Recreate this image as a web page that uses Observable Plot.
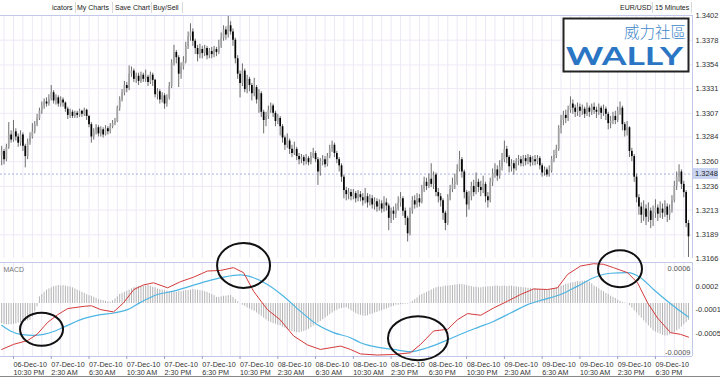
<!DOCTYPE html>
<html><head><meta charset="utf-8">
<script src="https://cdn.jsdelivr.net/npm/d3@7"></script>
<script src="https://cdn.jsdelivr.net/npm/@observablehq/plot@0.6"></script>
<style>
body{margin:0;background:#fff;}
#root{position:relative;width:720px;height:377px;overflow:hidden;background:#fff;font-family:"Liberation Sans",Arial,sans-serif;}
.tb{position:absolute;top:3px;font-size:7px;color:#222;line-height:9px;white-space:nowrap;}
.sep{position:absolute;top:2px;width:1px;height:11px;background:#d8d8d8;}
svg.plot{position:absolute;left:0;}
</style>
</head><body><div id="root"></div>
<script>
// ---------- DATA ----------
const BASE = 1.3; // prices below are pips above 1.3000
const openPips = [
266,270,262,274,286,281,289,284,278,286, 275,265,279,284,289,296,302,309,314,318,
316,321,327,319,322,316,320,317,311,305, 308,304,307,305,309,306,310,304,296,284,
289,293,287,291,286,292,289,294,297,299, 312,320,327,334,331,345,348,340,343,338,
344,340,342,337,344,339,325,328,320,324, 316,322,333,356,366,361,345,352,357,372,
381,386,377,370,364,369,365,370,363,367, 364,369,366,372,380,388,383,392,386,378,
360,345,336,348,330,340,334,326,332,320, 326,308,300,304,310,314,307,299,302,294,
283,276,280,272,268,272,265,262,264,260, 263,259,265,268,262,250,260,262,257,265,
272,276,268,262,256,245,232,228,230,226, 229,224,228,225,222,226,220,224,218,221,
216,219,214,220,217,205,212,209,214,220, 224,212,205,190,212,222,218,224,220,233,
240,236,243,238,247,230,226,222,210,200, 225,233,238,240,252,262,250,230,218,226,
236,230,240,235,232,238,226,222,240,248, 252,246,255,262,272,264,255,258,253,260,
262,258,263,260,264,259,262,260,263,256, 249,252,247,251,262,266,272,292,300,305,
302,310,316,312,308,313,309,311,306,312, 308,313,310,308,312,307,311,306,297,299,
304,300,309,312,296,290,293,270,265,245, 225,216,208,214,206,212,203,210,215,209,
214,210,216,208,213,222,236,245,250,238, 230,200];
const highPips = [
275,272,277,298,290,300,292,287,290,288, 277,282,288,297,299,306,312,318,321,322,
325,334,329,325,324,323,322,318,313,311, 310,309,309,311,310,312,311,305,298,292,
296,295,294,293,295,294,297,300,302,314, 323,330,338,337,353,352,350,346,346,347,
346,349,344,347,346,340,331,330,327,326, 325,337,359,373,368,363,356,362,376,386,
394,389,379,373,374,372,373,372,370,371, 372,371,378,385,392,391,402,396,389,380,
363,348,355,350,344,342,336,341,334,330, 328,310,308,314,317,316,309,306,304,296,
285,287,282,276,279,274,268,267,266,267, 265,269,273,270,264,263,266,265,268,276,
280,278,270,264,258,247,235,234,233,233, 231,232,231,229,234,229,228,227,225,224,
223,222,226,224,219,215,216,219,226,230, 226,215,207,215,226,227,229,228,237,245,
244,248,258,250,249,234,229,224,212,228, 237,244,248,257,270,264,252,232,231,240,
242,249,243,241,246,240,230,244,253,258, 256,261,268,280,275,266,262,261,263,266,
265,266,266,267,266,265,266,266,265,258, 255,254,256,265,271,276,295,305,309,310,
314,323,320,315,317,316,315,313,317,314, 316,317,313,316,314,315,313,308,304,308,
309,313,318,314,298,299,294,273,267,248, 228,220,222,218,220,215,217,223,218,221,
219,222,219,218,227,241,250,257,252,241, 232,203];
const lowPips = [
256,257,260,272,278,279,280,274,275,270, 254,262,276,282,287,294,300,306,311,313,
314,319,316,315,313,313,313,308,301,302, 302,302,302,303,303,304,300,293,278,281,
286,284,284,283,285,286,287,292,295,298, 309,318,324,327,329,342,337,336,334,336,
337,337,333,335,333,322,320,316,317,311, 313,320,331,353,355,332,340,349,355,369,
377,372,364,357,360,360,362,359,360,360, 361,362,364,370,377,378,380,383,372,355,
340,322,333,327,326,328,319,323,316,307, 303,287,294,301,307,303,294,296,285,278,
271,273,267,264,266,261,257,258,256,257, 256,257,263,259,237,246,256,254,255,263,
269,264,258,250,240,224,222,223,222,223, 220,221,221,217,219,215,217,214,213,211,
212,210,211,212,193,200,203,205,212,216, 207,198,182,188,209,214,215,216,219,230,
232,234,235,233,226,220,216,203,193,198, 222,230,233,237,250,244,224,206,213,222,
226,228,230,226,229,220,215,220,236,244, 241,243,251,259,258,249,250,247,251,256,
255,255,256,257,255,256,256,257,252,245, 246,245,245,249,259,263,270,287,295,297,
299,307,306,303,304,303,305,302,304,303, 305,306,302,305,301,304,300,291,292,296,
296,298,305,290,284,285,264,260,240,220, 208,200,202,198,201,195,197,205,202,205,
204,206,201,203,210,220,232,240,233,225, 196,167];
const closePips = [
270,262,274,286,281,289,284,278,286,275, 265,279,284,289,296,302,309,314,318,316,
321,327,319,322,316,320,317,311,305,308, 304,307,305,309,306,310,304,296,284,289,
293,287,291,286,292,289,294,297,299,312, 320,327,334,331,345,348,340,343,338,344,
340,342,337,344,339,325,328,320,324,316, 322,333,356,366,361,345,352,357,372,381,
386,377,370,364,369,365,370,363,367,364, 369,366,372,380,388,383,392,386,378,360,
345,336,348,330,340,334,326,332,320,326, 308,300,304,310,314,307,299,302,294,283,
276,280,272,268,272,265,262,264,260,263, 259,265,268,262,250,260,262,257,265,272,
276,268,262,256,245,232,228,230,226,229, 224,228,225,222,226,220,224,218,221,216,
219,214,220,217,205,212,209,214,220,224, 212,205,190,212,222,218,224,220,233,240,
236,243,238,247,230,226,222,210,200,225, 233,238,240,252,262,250,230,218,226,236,
230,240,235,232,238,226,222,240,248,252, 246,255,262,272,264,255,258,253,260,262,
258,263,260,264,259,262,260,263,256,249, 252,247,251,262,266,272,292,300,305,302,
310,316,312,308,313,309,311,306,312,308, 313,310,308,312,307,311,306,297,299,304,
300,309,312,296,290,293,270,265,245,225, 216,208,214,206,212,203,210,215,209,214,
210,216,208,213,222,236,245,250,238,230, 200,187];

// MACD panel values, in units of 0.0001
const histogram = [
-3.6,-3.7,-3.8,-3.8,-3.8,-3.7,-3.6,-3.5,-3.4,-3.3,-3.2,-3.1,-3.0,-2.4,-1.5,-0.6,
1.2,1.6,2.0,2.4,2.6,2.8,3.0,3.1,3.2,3.1,3.2,3.1,3.0,2.9,2.8,
2.6,2.4,2.2,2.0,1.8,1.6,1.4,1.3,1.1,0.9,0.7,0.6,0.5,0.4,0.3,0.2,
0.5,0.8,1.2,1.6,1.8,2.0,2.2,2.4,2.6,2.8,2.9,3.0,3.0,3.1,3.1,3.2,3.1,
2.9,2.8,2.6,2.5,2.4,2.3,2.2,2.1,2.1,2.0,2.0,2.1,2.1,2.2,2.3,2.3,2.4,2.5,
2.4,2.4,2.3,2.2,2.1,2.0,1.8,1.6,1.4,1.1,1.1,1.2,1.3,1.3,1.4,1.4,1.1,0.7,0.3,0,
-0.3,-0.5,-0.8,-1.0,-1.2,-1.4,-1.7,-2.0,-2.3,-2.6,-2.9,-3.2,-3.4,-3.6,-3.7,-3.9,-4.0,
-4.2,-4.4,-4.6,-4.8,-5.0,-5.1,-5.2,-5.2,-5.1,-5.0,-4.8,-4.6,-4.3,-4.0,-3.8,-3.5,-3.2,
-2.9,-2.6,-2.3,-2.0,-1.7,-1.4,-1.2,-1.0,-0.9,-0.8,-0.8,-1.0,-1.3,-1.5,-1.8,-2.0,
-2.1,-2.2,-2.3,-2.2,-2.0,-1.9,-1.7,-1.6,-1.4,-1.3,-1.1,-1.0,-0.8,-0.6,-0.5,-0.3,
-0.3,-0.2,-0.2,-0.1,-0.1,0.1,0.4,0.7,1.0,1.4,1.6,1.8,2.0,2.2,2.4,2.6,2.8,
2.9,2.9,3.0,3.1,3.1,3.2,3.2,3.3,3.3,3.4,3.4,3.3,3.2,3.1,3.0,2.9,2.9,2.8,2.8,
2.9,2.9,3.0,3.0,3.0,3.1,3.1,3.0,3.1,3.1,3.0,3.1,3.1,
3.0,3.0,2.9,2.9,2.8,2.8,2.7,2.7,2.6,2.6,2.5,2.5,2.4,2.4,2.3,
2.4,2.5,2.7,2.8,3.0,3.1,3.2,3.4,3.5,3.6,3.7,3.8,3.9,3.9,4.0,4.0,4.0,3.8,3.5,3.1,
2.9,2.6,2.3,2.1,1.8,1.6,1.3,1.1,0.9,0.6,0.4,0.2,0.1,0,
-0.4,-0.8,-1.3,-1.7,-2.2,-2.6,-3.1,-3.5,-4.0,-4.4,-4.9,
-5.1,-5.3,-5.5,-5.7,-5.8,-5.8,-5.6,-5.4,-5.2,-4.9,-4.6,-4.2,-3.8,-3.4,-3.0];
const macdAt = [0,5,11,15,19.4,23.7,28,35,38,42,47.4,51.6,56,60,64.3,70.3,75.8,81.3,87.2,92.7,98.2,102.5,106.7,112.6,118,123.7,129.6,135,143.6,147.8,152,159.2,166,173.2,177.5,183,189,193.1,197.4,203,208.4,214.3,219.8,225.4,231.3,235.5,239.8,245.3,250.8,255,259.2,265.2,269.4,273.7,277.9,283.4,287.6,291];
const macdVal = [-8.2,-7.3,-6.6,-5.5,-3.4,-2.0,-0.9,-0.5,-0.4,-1.1,-1.5,0.1,2.5,3.3,3.7,2.8,3.9,4.7,5.8,5.9,6.4,5.5,2.2,-1.1,-2.9,-5.8,-7.4,-8.2,-7.6,-8.2,-9.0,-9.2,-9.1,-8.8,-7.3,-4.9,-4.6,-2.9,-1.8,-2.1,-0.8,0.4,1.6,2.6,2.5,2.8,5.2,6.7,7.1,7.0,6.4,5.5,3.7,0.1,-2.6,-5.2,-5.5,-6.0];
const signalAt = [0,3.7,8,13.5,17.7,22,27.9,34.7,41.9,47.4,53.3,58.8,66,72.8,80,87.2,94,101.2,106.7,112.6,119.4,126.6,133.8,140.6,147.8,152,159.2,166,173.2,180.4,187.2,194.4,201.6,208.4,215.6,222.8,229.6,236.8,244,250.8,258,265.2,270.7,276.2,282.1,287.6,291];
const signalVal = [-3.9,-4.9,-5.5,-5.7,-5.5,-5.0,-3.9,-2.7,-2.0,-1.7,-1.1,0.2,1.6,2.2,3.1,4.0,4.7,5.1,4.6,3.4,1.3,-1.4,-3.8,-5.2,-6.1,-7.0,-7.8,-8.2,-8.6,-7.9,-6.8,-5.5,-4.3,-3.2,-1.7,-0.2,0.7,1.6,3.1,4.6,5.4,5.5,4.6,2.5,0.4,-1.4,-2.4];

// axes
const priceTicks = [1.3402,1.3378,1.3354,1.3331,1.3307,1.3284,1.3260,1.3236,1.3213,1.3189,1.3166];
const currentPrice = 1.3248;
const macdTickAt = [6.25, 3.04, -1.07, -5.35, -8.75];
const macdTickLabels = ["0.0006","0.0002","-0.0001","-0.0005","-0.0009"];
const timeTickBars = [5,21,37,53,69,85,101,117,133,149,165,181,197,213,229,245,261,277];
const timeTickDates = ["06-Dec-10","07-Dec-10","07-Dec-10","07-Dec-10","07-Dec-10","07-Dec-10","07-Dec-10","08-Dec-10","08-Dec-10","08-Dec-10","08-Dec-10","08-Dec-10","08-Dec-10","09-Dec-10","09-Dec-10","09-Dec-10","09-Dec-10","09-Dec-10"];
const timeTickTimes = ["10:30 PM","2:30 AM","6:30 AM","10:30 AM","2:30 PM","6:30 PM","10:30 PM","2:30 AM","6:30 AM","10:30 AM","2:30 PM","6:30 PM","10:30 PM","2:30 AM","6:30 AM","10:30 AM","2:30 PM","6:30 PM"];
// hand-drawn circles around the MACD crossovers (bar, value)
const circleAt = [17.1, 102.7, 176.6, 262.2];
const circleVal = [-5.4, 6.0, -7.0, 5.4];

// ---------- BUILD ----------
const candles = closePips.map((c, i) => ({
  i, o: BASE + openPips[i] / 1e4, h: BASE + highPips[i] / 1e4,
  l: BASE + lowPips[i] / 1e4, c: BASE + c / 1e4, up: c >= openPips[i]
}));
const hist = histogram.map((v, i) => ({i, v}));
const macd = macdAt.map((i, k) => ({i, v: macdVal[k]}));
const signal = signalAt.map((i, k) => ({i, v: signalVal[k]}));
const gridBars = d3.range(1, closePips.length, 4);
const XDOM = [-0.5, 292.7];
const GRID = "#eee8f6", BORDER = "#c3c8ea";
const root = document.getElementById("root");

// toolbar
const tb = [["icators",52],["My Charts",77],["Save Chart",115],["Buy/Sell",153],["EUR/USD",620],["15 Minutes",655]];
tb.forEach(([t,x]) => { const d = document.createElement("div"); d.className="tb"; d.style.left=x+"px"; d.textContent=t; root.appendChild(d); });
[75,112,151,182,652,691].forEach(x => { const d = document.createElement("div"); d.className="sep"; d.style.left=x+"px"; root.appendChild(d); });

const baseStyle = {background: "transparent", overflow: "visible", fontFamily: "Liberation Sans, Arial, sans-serif", fontSize: "7.5px", color: "#333"};

const pricePlot = Plot.plot({
  width: 720, height: 262, marginTop: 15, marginBottom: 4, marginLeft: 0, marginRight: 28,
  style: baseStyle,
  x: {domain: XDOM, axis: null},
  y: {domain: [1.3166, 1.3402]},
  marks: [
    Plot.ruleX(gridBars, {stroke: GRID}),
    Plot.ruleY(priceTicks.slice(1, -1), {stroke: GRID}),
    Plot.ruleY([currentPrice], {stroke: "#a7b0e0", strokeDasharray: "2,2"}),
    Plot.ruleX(candles, {x: "i", y1: "l", y2: "h", stroke: "#5c5c5c", strokeWidth: 0.9}),
    Plot.ruleX(candles.filter(d => d.up), {x: "i", y1: "o", y2: "c", stroke: "#a2a2a2", strokeWidth: 1.7}),
    Plot.ruleX(candles.filter(d => !d.up), {x: "i", y1: "o", y2: "c", stroke: "#000", strokeWidth: 1.7}),
    Plot.ruleY([1.3402], {stroke: BORDER}),
    Plot.ruleX([XDOM[1]], {stroke: BORDER}),
    Plot.axisY({anchor: "right", label: null, ticks: priceTicks, tickSize: 0, tickPadding: 3, tickFormat: d => d.toFixed(4), fill: "#333"})
  ]
});
pricePlot.style.top = "0px";
root.appendChild(pricePlot);

const tickLabel = new Map(timeTickBars.map((b, k) => [b, timeTickDates[k] + "\n" + timeTickTimes[k]]));
const outerTicks = macdTickAt.slice(1, 4);
const macdLabel = new Map(macdTickAt.map((v, k) => [v, macdTickLabels[k]]));
const innerTicks = [0, 4].map(k => ({v: macdTickAt[k], label: macdTickLabels[k]}));

const macdPlot = Plot.plot({
  width: 720, height: 119, marginTop: 0, marginBottom: 25, marginLeft: 0, marginRight: 28,
  style: baseStyle,
  x: {domain: XDOM},
  y: {domain: [-9.46, 7.32]},
  marks: [
    Plot.ruleX(gridBars, {stroke: GRID}),
    Plot.ruleX(hist, {x: "i", y1: 0, y2: "v", stroke: "#a8a8a8", strokeWidth: 0.85}),
    Plot.line(signal, {x: "i", y: "v", stroke: "#4db5e3", strokeWidth: 1.2, curve: "monotone-x"}),
    Plot.line(macd, {x: "i", y: "v", stroke: "#d43a3a", strokeWidth: 1}),
    Plot.ruleY([7.32, -9.46], {stroke: BORDER}),
    Plot.ruleX([XDOM[1]], {stroke: BORDER}),
    Plot.axisY({anchor: "right", label: null, ticks: outerTicks, tickSize: 0, tickPadding: 3, tickFormat: d => macdLabel.get(d), fill: "#333"}),
    Plot.text(innerTicks, {x: XDOM[1], y: "v", text: "label", textAnchor: "end", dx: -2, fill: "#555"}),
    Plot.text(["MACD"], {frameAnchor: "top-left", dx: 3, dy: 5, fill: "#777", fontSize: 7}),
    Plot.axisX({ticks: timeTickBars, label: null, tickFormat: d => tickLabel.get(d), tickSize: 3, tickPadding: 2,
      textAnchor: "start", fontSize: 7.2, lineHeight: 1.12, fill: "#333", stroke: "#9aa0c8"})
  ]
});
macdPlot.style.top = "258px";
root.appendChild(macdPlot);

// current price label box
const yCur = pricePlot.scale("y").apply(currentPrice);
const box = document.createElement("div");
Object.assign(box.style, {position: "absolute", left: "693px", top: (yCur - 5.5) + "px", width: "25px", height: "11px",
  background: "#c8d4f1", fontSize: "7.5px", lineHeight: "11px", color: "#222", paddingLeft: "2px", boxSizing: "border-box"});
box.textContent = currentPrice.toFixed(4);
root.appendChild(box);

// overlay: logo + hand-drawn circles
const xs = macdPlot.scale("x"), ys = macdPlot.scale("y");
const ov = d3.create("svg").attr("width", 720).attr("height", 377)
  .style("position", "absolute").style("left", "0px").style("top", "0px").style("overflow", "visible");
const radii = [[21.5, 16.5], [26.5, 22.5], [30, 22], [22, 18.5]];
circleAt.forEach((b, k) => {
  ov.append("ellipse").attr("cx", xs.apply(b)).attr("cy", 258 + ys.apply(circleVal[k]))
    .attr("rx", radii[k][0]).attr("ry", radii[k][1])
    .attr("fill", "none").attr("stroke", "#111").attr("stroke-width", 2);
});
ov.append("rect").attr("x", 563.5).attr("y", 18.5).attr("width", 125).attr("height", 53)
  .attr("fill", "#fff").attr("stroke", "#222").attr("stroke-width", 2);
ov.append("text").attr("x", 686).attr("y", 37.5).attr("text-anchor", "end")
  .attr("font-family", "Noto Sans CJK TC").attr("font-weight", 300).attr("font-size", 15.5)
  .attr("fill", "#3d86c8").text("威力社區");
ov.append("text").attr("x", 566).attr("y", 65).attr("textLength", 117).attr("lengthAdjust", "spacingAndGlyphs")
  .attr("font-family", "Lato").attr("font-weight", 700).attr("font-size", 24)
  .attr("fill", "#2b76c4").text("WALLY");
ov.append("rect").attr("x", 0).attr("y", 376).attr("width", 720).attr("height", 1).attr("fill", "#888");
root.appendChild(ov.node());
</script></body></html>
